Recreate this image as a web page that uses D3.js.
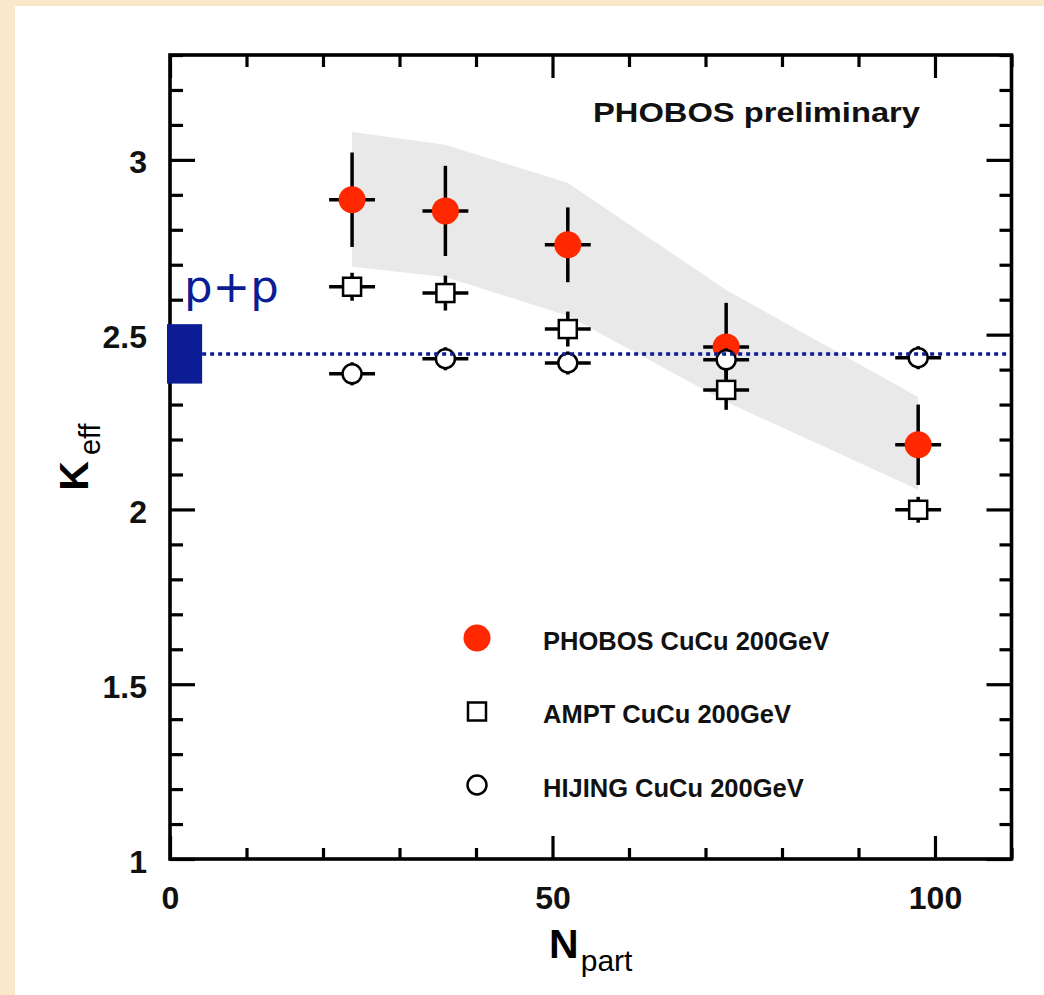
<!DOCTYPE html>
<html>
<head>
<meta charset="utf-8">
<script src="https://cdn.jsdelivr.net/npm/d3@7"></script>
<style>
  html, body { margin: 0; padding: 0; background: #f9e8c9; }
  svg { display: block; }
</style>
</head>
<body>
<svg id="chart" width="1044" height="995"></svg>
<script>
// ---- data ----
const npart      = [23.8, 36.0, 52.0, 72.7, 97.8];
const xErr       = [3.0, 3.0, 3.0, 3.0, 3.0];
const phobos     = [2.886, 2.854, 2.757, 2.465, 2.185];
const phobosErr  = [0.135, 0.129, 0.107, 0.126, 0.115];
const sysHigh    = [3.080, 3.043, 2.934, 2.628, 2.322];
const sysLow     = [2.694, 2.665, 2.554, 2.308, 2.056];
const ampt       = [2.637, 2.619, 2.516, 2.342, 1.999];
const amptErr    = [0.040, 0.050, 0.050, 0.057, 0.037];
const hijing     = [2.388, 2.431, 2.419, 2.428, 2.434];
const hijingErr  = [0.033, 0.033, 0.033, 0.033, 0.033];
const ppValue    = 2.445;
const ppErr      = 0.085;
const ppWidth    = 4.2;   // width of the p+p box in Npart units
const yMajorTicks = [1, 1.5, 2, 2.5, 3];
const xMajorTicks = [0, 50, 100];
const legendLabels = ["PHOBOS CuCu 200GeV", "AMPT CuCu 200GeV", "HIJING CuCu 200GeV"];

// ---- layout ----
const svg = d3.select("#chart");
const W = 1044, H = 995;
const L = 170, R = 1011.5, T = 55, B = 859;
const x = d3.scaleLinear().domain([0, 110]).range([L, R]);
const y = d3.scaleLinear().domain([1, 3.3]).range([B, T]);
const RED = "#ff2800", BLUE = "#0b1c94";
const FONT = "'Liberation Sans', Arial, Helvetica, sans-serif";

svg.append("rect").attr("x", 15).attr("y", 6).attr("width", W - 15).attr("height", H - 6).attr("fill", "#fff");

// systematic band
const bandData = npart.map((n, i) => ({n, lo: sysLow[i], hi: sysHigh[i]}));
svg.append("path")
  .datum(bandData)
  .attr("fill", "#e9e9e9")
  .attr("d", d3.area().x(d => x(d.n)).y0(d => y(d.lo)).y1(d => y(d.hi)));

// series with error bars
function drawSeries(vals, errs, drawMarker) {
  const g = svg.append("g");
  const pts = npart.map((n, i) => ({n, v: vals[i], e: errs[i], xe: xErr[i]}));
  g.selectAll("line.ex").data(pts).join("line")
    .attr("x1", d => x(d.n - d.xe)).attr("x2", d => x(d.n + d.xe))
    .attr("y1", d => y(d.v)).attr("y2", d => y(d.v))
    .attr("stroke", "#000").attr("stroke-width", 3.5);
  g.selectAll("line.ey").data(pts).join("line")
    .attr("x1", d => x(d.n)).attr("x2", d => x(d.n))
    .attr("y1", d => y(d.v - d.e)).attr("y2", d => y(d.v + d.e))
    .attr("stroke", "#000").attr("stroke-width", 3.5);
  pts.forEach(d => drawMarker(g, x(d.n), y(d.v)));
}

const markerRed = (g, cx, cy) => g.append("circle").attr("cx", cx).attr("cy", cy).attr("r", 13.5).attr("fill", RED);
const markerSquare = (g, cx, cy) => g.append("rect").attr("x", cx - 9).attr("y", cy - 9).attr("width", 18).attr("height", 18)
  .attr("fill", "#fff").attr("stroke", "#000").attr("stroke-width", 2.5);
const markerCircle = (g, cx, cy) => g.append("circle").attr("cx", cx).attr("cy", cy).attr("r", 9.5)
  .attr("fill", "#fff").attr("stroke", "#000").attr("stroke-width", 2.5);

drawSeries(phobos, phobosErr, markerRed);
drawSeries(ampt, amptErr, markerSquare);
drawSeries(hijing, hijingErr, markerCircle);

// p+p dotted reference line
svg.append("line")
  .attr("x1", x(ppWidth)).attr("x2", R)
  .attr("y1", y(ppValue)).attr("y2", y(ppValue))
  .attr("stroke", BLUE).attr("stroke-width", 3.5).attr("stroke-dasharray", "4,4");

// ---- axes ----
const yMinor = d3.range(10, 34).map(i => i / 10).filter(v => !yMajorTicks.some(m => Math.abs(m - v) < 1e-9));
const xMinor = d3.range(0, 12).map(i => i * 10).filter(v => !xMajorTicks.includes(v));
const fmt = d3.format("~g");

function styleAxis(g) {
  g.select(".domain").remove();
  g.selectAll("line").attr("stroke", "#000").attr("stroke-width", 3.2);
  g.selectAll("text").attr("font-family", FONT).attr("font-weight", "bold").attr("font-size", 32).attr("fill", "#111");
}

// left
svg.append("g").attr("transform", `translate(${L},0)`)
  .call(d3.axisLeft(y).tickValues(yMinor).tickSize(-13).tickFormat("")).call(styleAxis);
svg.append("g").attr("transform", `translate(${L},0)`)
  .call(d3.axisLeft(y).tickValues(yMajorTicks).tickSize(-25).tickPadding(23).tickFormat(fmt)).call(styleAxis)
  .selectAll("text").attr("dy", null).attr("y", 13);
// right
svg.append("g").attr("transform", `translate(${R},0)`)
  .call(d3.axisRight(y).tickValues(yMinor).tickSize(-12).tickFormat("")).call(styleAxis);
svg.append("g").attr("transform", `translate(${R},0)`)
  .call(d3.axisRight(y).tickValues(yMajorTicks).tickSize(-25).tickFormat("")).call(styleAxis);
// bottom
svg.append("g").attr("transform", `translate(0,${B})`)
  .call(d3.axisBottom(x).tickValues(xMinor).tickSize(-11).tickFormat("")).call(styleAxis);
svg.append("g").attr("transform", `translate(0,${B})`)
  .call(d3.axisBottom(x).tickValues(xMajorTicks).tickSize(-23).tickPadding(0).tickFormat(fmt)).call(styleAxis)
  .selectAll("text").attr("dy", null).attr("y", 50);
// top
svg.append("g").attr("transform", `translate(0,${T})`)
  .call(d3.axisTop(x).tickValues(xMinor).tickSize(-12).tickFormat("")).call(styleAxis);
svg.append("g").attr("transform", `translate(0,${T})`)
  .call(d3.axisTop(x).tickValues(xMajorTicks).tickSize(-23).tickFormat("")).call(styleAxis);

// frame
svg.append("rect").attr("x", L).attr("y", T).attr("width", R - L).attr("height", B - T)
  .attr("fill", "none").attr("stroke", "#000").attr("stroke-width", 3.6);

// p+p reference box, drawn over the left axis
svg.append("rect")
  .attr("x", x(0) - 3).attr("width", x(ppWidth) - x(0) + 3)
  .attr("y", y(ppValue + ppErr)).attr("height", y(ppValue - ppErr) - y(ppValue + ppErr))
  .attr("fill", BLUE);

svg.append("text")
  .attr("x", x(0) + 14).attr("y", 302)
  .attr("font-family", "'DejaVu Sans', sans-serif").attr("font-size", 45)
  .attr("fill", BLUE).text("p+p");

// axis titles
const xt = svg.append("text").attr("x", (L + R) / 2).attr("y", 958)
  .attr("text-anchor", "middle").attr("font-family", FONT).attr("fill", "#000");
xt.append("tspan").attr("font-weight", "bold").attr("font-size", 41).text("N");
xt.append("tspan").attr("font-size", 30).attr("dx", 2).attr("dy", 13).text("part");

const yt = svg.append("text")
  .attr("transform", `translate(88,${(T + B) / 2}) rotate(-90)`)
  .attr("text-anchor", "middle").attr("font-family", FONT).attr("fill", "#000");
yt.append("tspan").attr("font-weight", "bold").attr("font-size", 41).text("K");
yt.append("tspan").attr("font-size", 29).attr("dx", 6).attr("dy", 12).text("eff");

// label in the upper right
svg.append("text").attr("x", 593).attr("y", 122)
  .attr("font-family", FONT).attr("font-weight", "bold").attr("font-size", 28)
  .attr("textLength", 327).attr("lengthAdjust", "spacingAndGlyphs")
  .attr("fill", "#111").text("PHOBOS preliminary");

// legend
const legX = 477, legY0 = 638, legDY = 73.5;
const legMarkers = [markerRed, markerSquare, markerCircle];
const leg = svg.append("g");
legendLabels.forEach((lab, i) => {
  const cy = legY0 + i * legDY;
  legMarkers[i](leg, legX, cy);
  leg.append("text").attr("x", legX + 66).attr("y", cy + 11.5)
    .attr("font-family", FONT).attr("font-weight", "bold").attr("font-size", 25.5)
    .attr("fill", "#111").text(lab);
});
</script>
</body>
</html>
